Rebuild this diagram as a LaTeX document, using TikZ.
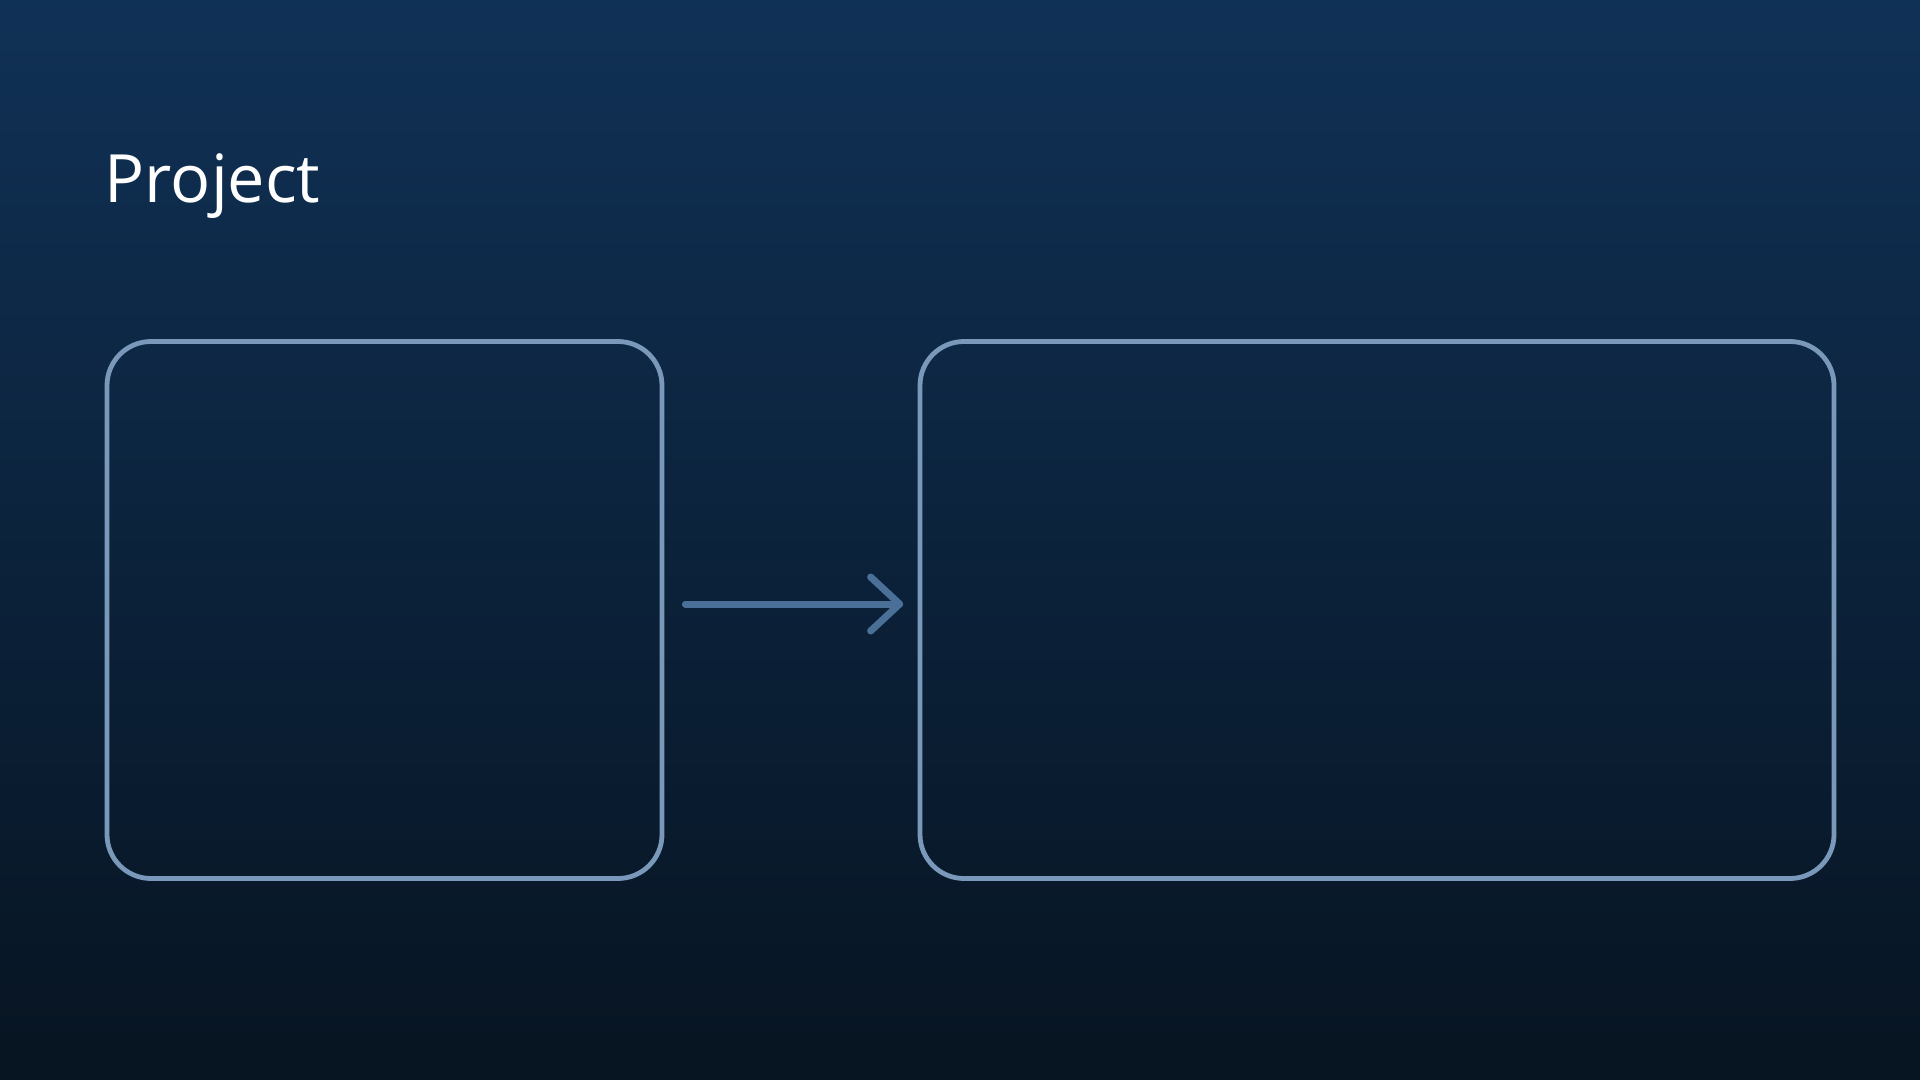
\documentclass[tikz,border=0pt]{standalone}
\usepackage{fontspec}
\setmainfont{Open Sans}
\definecolor{bgtop}{RGB}{16,49,86}
\definecolor{bgbot}{RGB}{7,20,33}
\definecolor{boxline}{RGB}{122,153,186}
\definecolor{arrowline}{RGB}{74,112,152}
\tikzset{
  panel/.style={draw=boxline, line width=2.4pt, rounded corners=22pt, inner sep=0pt, rectangle},
  flow/.style={draw=arrowline, line width=3.5pt, line cap=round, line join=round},
  titletext/.style={text=white, font=\fontsize{33.3pt}{40pt}\selectfont, inner sep=0pt, anchor=base west}
}
\begin{document}
\begin{tikzpicture}[x=0.5pt,y=-0.5pt]
\shade[top color=bgtop, bottom color=bgbot] (0,0) rectangle (1920,1080);
\useasboundingbox (0,0) rectangle (1920,1080);
\node[titletext] (title) at (104.5,202.5) {Project};
\node[panel, minimum width=277.5pt, minimum height=268.5pt] (left) at (384.5,610) {};
\node[panel, minimum width=457pt, minimum height=268.5pt] (right) at (1377,610) {};
\coordinate (start) at ([xshift=10.5pt, yshift=3pt]left.east);
\coordinate (tip) at ([xshift=-9pt, yshift=3pt]right.west);
\draw[flow] (start) -- (tip);
\draw[flow] ([xshift=-14.5pt, yshift=13.5pt]tip) -- (tip) -- ([xshift=-14.5pt, yshift=-13.5pt]tip);
\end{tikzpicture}
\end{document}
